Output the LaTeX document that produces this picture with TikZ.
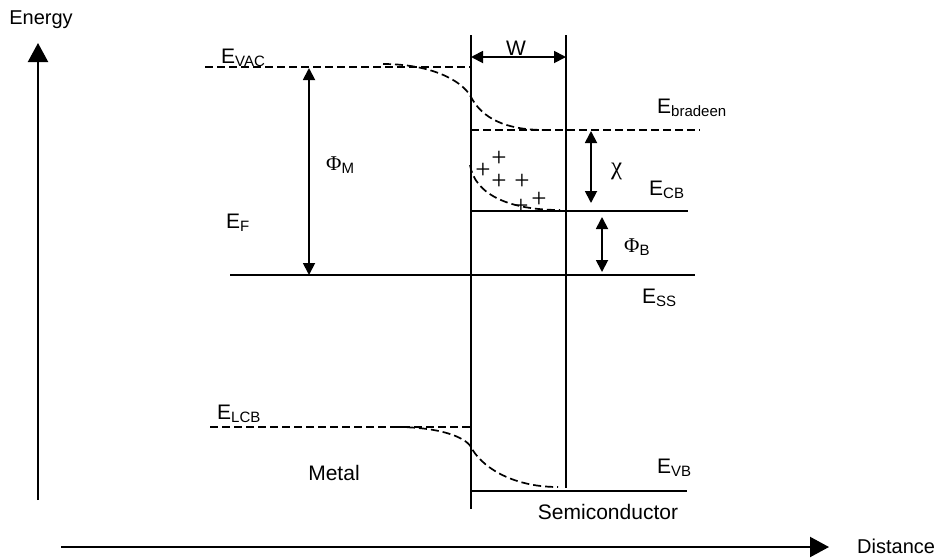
\documentclass[tikz,border=0pt]{standalone}
\usepackage{fontspec}
\setmainfont{Liberation Sans}
\newfontfamily\symf{Liberation Serif}
\usetikzlibrary{arrows.meta}
\newcommand\myE[1]{E\raisebox{-3pt}{\fontsize{15}{17}\selectfont #1}}
\begin{document}
\begin{tikzpicture}[x=1pt,y=-1pt,
 lbl/.style={inner sep=0pt, anchor=base west, font=\fontsize{21}{25}\selectfont},
 dsh/.style={line width=1.7pt, dash pattern=on 8pt off 4pt},
 ln/.style={line width=1.8pt},
 axis/.style={line width=2.2pt,-{Triangle[width=20pt,length=19pt]}},
 dbl/.style={line width=1.8pt,{Triangle[width=12pt,length=12pt]}-{Triangle[width=12pt,length=12pt]}},
 plus/.style={inner sep=0pt, font=\fontsize{27}{30}\selectfont\symf}
]
\useasboundingbox (0,0) rectangle (944,558);
% axes
\coordinate (ey0) at (38,500); \coordinate (ey1) at (38,43);
\coordinate (dx0) at (61,547); \coordinate (dx1) at (829,547);
\draw[axis] (ey0) -- (ey1);
\draw[axis] (dx0) -- (dx1);
\node[inner sep=0pt, font=\fontsize{20}{24}\selectfont] (energy) at (41,20) {Energy};
\node[inner sep=0pt, anchor=west, font=\fontsize{20}{24}\selectfont] (distance) at (857,546) {Distance};
% vertical interface lines
\coordinate (l0) at (471,35); \coordinate (l1) at (471,509);
\coordinate (r0) at (566,35); \coordinate (r1) at (566,488);
\draw[ln] (l0) -- (l1);
\draw[ln] (r0) -- (r1);
% W
\coordinate (w0) at (471,57); \coordinate (w1) at (566,57);
\draw[dbl] (w0) -- (w1);
\node[lbl] (wl) at (506,55) {W};
% E_VAC
\coordinate (vac0) at (205,67); \coordinate (vac1) at (471,67);
\draw[dsh] (vac0) -- (vac1);
\coordinate (c0) at (383,64); \coordinate (cm) at (471,97); \coordinate (c1) at (545,130);
\draw[dsh] (c0) .. controls (430,64) and (462,80) .. (cm) .. controls (482,118) and (505,130) .. (c1);
\node[lbl] (evac) at (221,63) {\myE{VAC}};
% E_bradeen
\coordinate (br0) at (471,130); \coordinate (br1) at (700,130);
\draw[dsh] (br0) -- (br1);
\node[lbl] (ebr) at (657,113) {\myE{bradeen}};
% chi
\coordinate (ch0) at (591,131); \coordinate (ch1) at (591,203);
\draw[dbl] (ch0) -- (ch1);
\node[lbl, font=\fontsize{25}{28}\selectfont\symf] (chi) at (611,174) {χ};
% E_CB
\coordinate (cb0) at (471,211); \coordinate (cb1) at (688,211);
\draw[ln] (cb0) -- (cb1);
\node[lbl] (ecb) at (649,195) {\myE{CB}};
\coordinate (d0) at (470,165); \coordinate (d1) at (560,210);
\draw[dsh] (d0) .. controls (475,195) and (510,210) .. (d1);
% pluses
\node[plus] (p1) at (499,159) {+};
\node[plus] (p2) at (483,171) {+};
\node[plus] (p3) at (499,182) {+};
\node[plus] (p4) at (522,182) {+};
\node[plus] (p5) at (539,200) {+};
\node[plus] (p6) at (521,207) {+};
% Phi_B
\coordinate (pb0) at (602,217); \coordinate (pb1) at (602,272);
\draw[dbl] (pb0) -- (pb1);
\node[lbl] (phib) at (624,252) {{\symf Φ}\raisebox{-3pt}{\fontsize{15}{17}\selectfont B}};
% E_F line
\coordinate (f0) at (230,275); \coordinate (f1) at (695,275);
\draw[ln] (f0) -- (f1);
\node[lbl] (ef) at (226,228) {\myE{F}};
\node[lbl] (ess) at (642,303) {\myE{SS}};
% Phi_M
\coordinate (pm0) at (309,68); \coordinate (pm1) at (309,275);
\draw[dbl] (pm0) -- (pm1);
\node[lbl] (phim) at (326,170) {{\symf Φ}\raisebox{-3pt}{\fontsize{15}{17}\selectfont M}};
% E_LCB
\coordinate (lcb0) at (210,427); \coordinate (lcb1) at (471,427);
\draw[dsh] (lcb0) -- (lcb1);
\coordinate (e0) at (395,427); \coordinate (em) at (471,447); \coordinate (e1) at (558,487);
\draw[dsh] (e0) .. controls (440,427) and (465,437) .. (em) .. controls (480,465) and (510,487) .. (e1);
\node[lbl] (elcb) at (217,419) {\myE{LCB}};
% E_VB
\coordinate (vb0) at (471,491); \coordinate (vb1) at (687,491);
\draw[ln] (vb0) -- (vb1);
\node[lbl] (evb) at (657,473) {\myE{VB}};
\node[lbl, anchor=center] (metal) at (334,473) {Metal};
\node[lbl, anchor=center] (semi) at (608,512) {Semiconductor};
\end{tikzpicture}
\end{document}
